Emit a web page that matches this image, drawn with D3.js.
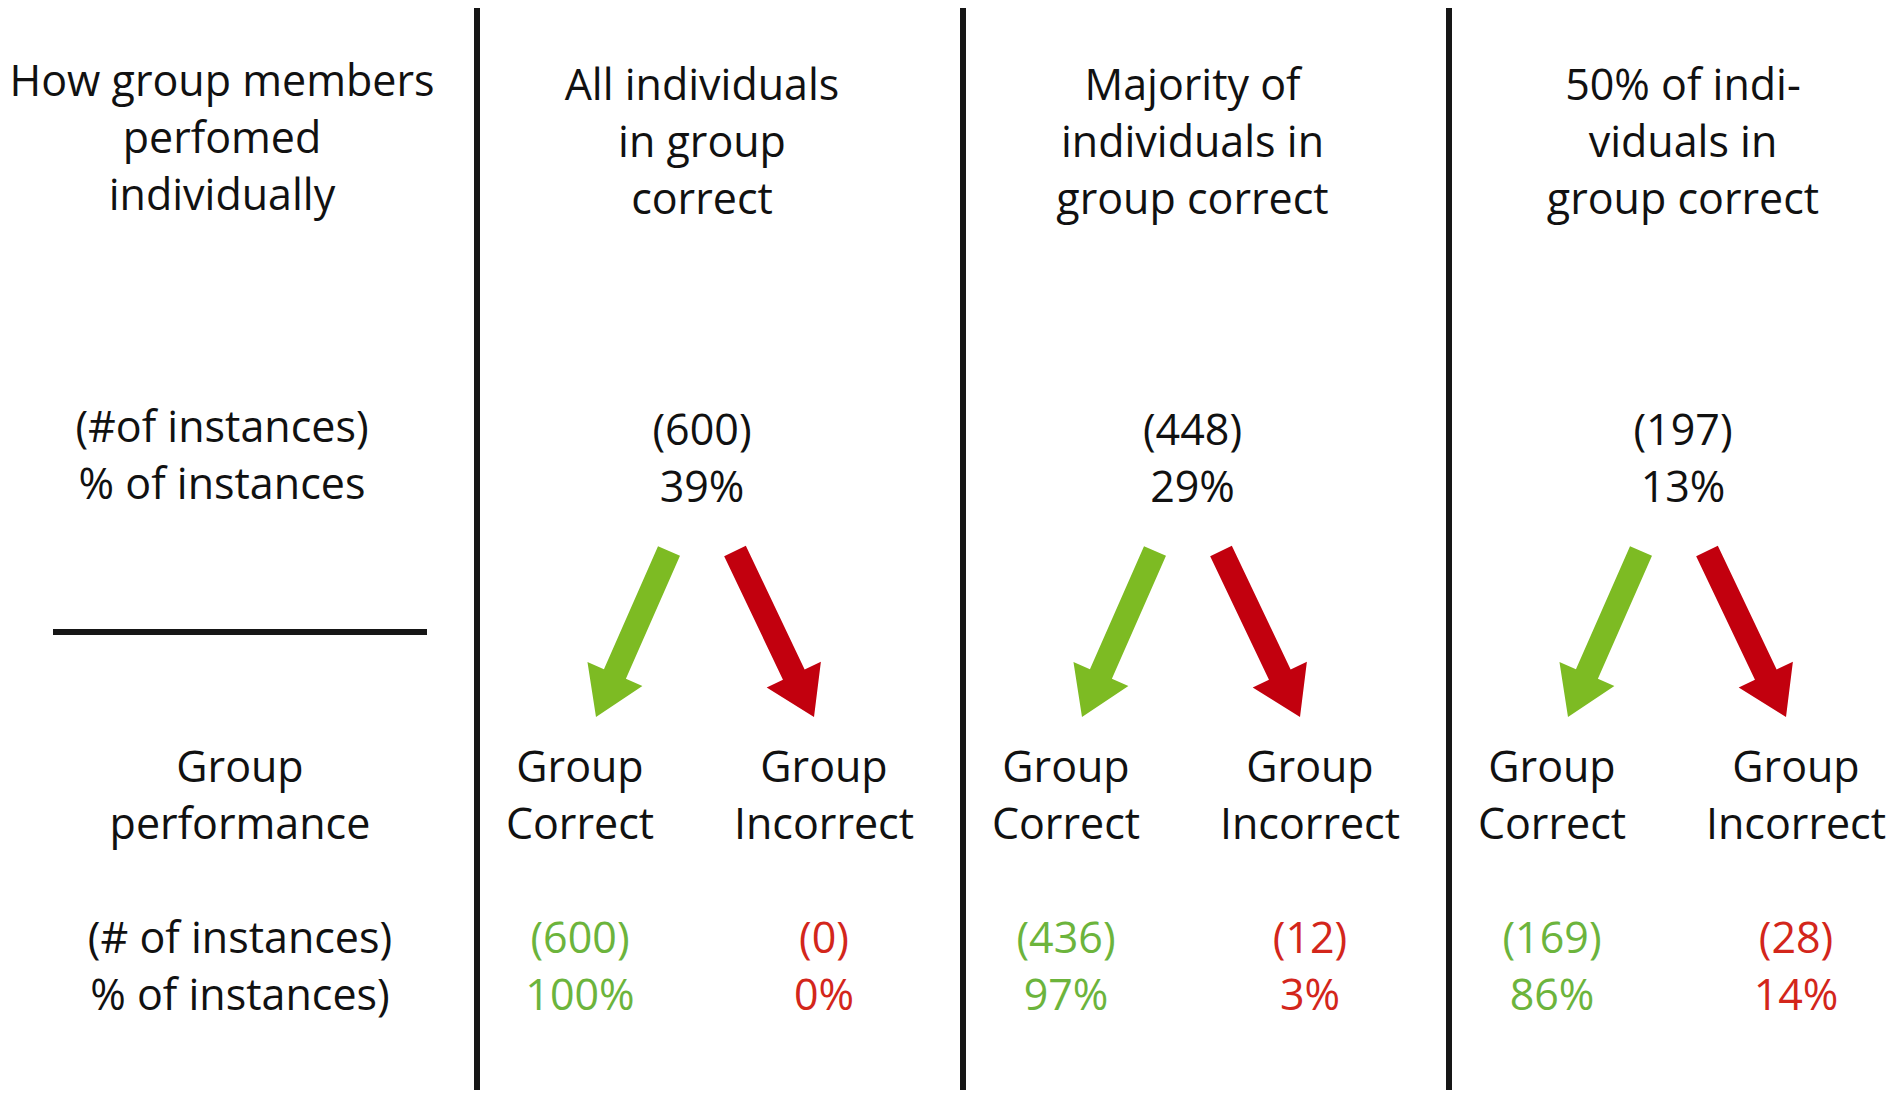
<!DOCTYPE html>
<html>
<head>
<meta charset="utf-8">
<script src="https://cdn.jsdelivr.net/npm/d3@7"></script>
<style>
  html, body { margin: 0; padding: 0; background: #ffffff; }
  svg { display: block; }
  text { font-family: "Open Sans", "Noto Sans", sans-serif; font-size: 43px; }
</style>
</head>
<body>
<svg width="1902" height="1094"></svg>
<script>
  // categories (column headers, one array of lines each)
  var columns = ["all", "majority", "half"];
  var headerLines = [
    ["All individuals", "in group", "correct"],
    ["Majority of", "individuals in", "group correct"],
    ["50% of indi-", "viduals in", "group correct"]
  ];
  var rowLabelTop = ["How group members", "perfomed", "individually"];
  var rowLabelCount = ["(#of instances)", "% of instances"];
  var rowLabelGroup = ["Group", "performance"];
  var rowLabelGroupCount = ["(# of instances)", "% of instances)"];

  // series values
  var instances = [600, 448, 197];
  var instancePct = [39, 29, 13];
  var outcomes = ["Correct", "Incorrect"];
  var outcomeCount = { Correct: [600, 436, 169], Incorrect: [0, 12, 28] };
  var outcomePct = { Correct: [100, 97, 86], Incorrect: [0, 3, 14] };

  var svg = d3.select("svg");

  // column mids (outcome pairs) and header centres
  var x = d3.scalePoint().domain(columns).range([702, 1674]);
  var xh = d3.scalePoint().domain(columns).range([702, 1683]);
  var sub = d3.scalePoint().domain(outcomes).range([-122, 122]);
  var arrowStart = d3.scalePoint().domain(outcomes).range([-33, 33]);
  var arrowTip = d3.scalePoint().domain(outcomes).range([-106, 112]);

  var arrowColor = { Correct: "#7dbb23", Incorrect: "#c2000e" };
  var textColor = { Correct: "#6cb43c", Incorrect: "#d3261b" };
  var lineH = 57;
  var leftX = 222, leftX2 = 240;

  function multiline(sel, lines, cx, y0, fill) {
    var t = sel.append("text")
        .attr("text-anchor", "middle")
        .attr("fill", fill || "#111");
    t.selectAll("tspan").data(lines).enter()
        .append("tspan")
        .attr("x", cx)
        .attr("y", function (d, i) { return y0 + i * lineH; })
        .text(function (d) { return d; });
    return t;
  }

  // separators
  svg.selectAll("line.sep").data(columns).enter()
      .append("line")
      .attr("class", "sep")
      .attr("x1", function (d) { return x(d) - 225; })
      .attr("x2", function (d) { return x(d) - 225; })
      .attr("y1", 8)
      .attr("y2", 1090)
      .attr("stroke", "#161616")
      .attr("stroke-width", 6);

  svg.append("line")
      .attr("x1", 53).attr("x2", 427)
      .attr("y1", 632).attr("y2", 632)
      .attr("stroke", "#161616")
      .attr("stroke-width", 6);

  // left labels
  multiline(svg, rowLabelTop, leftX, 96);
  multiline(svg, rowLabelCount, leftX, 442);
  multiline(svg, rowLabelGroup, leftX2, 782);
  multiline(svg, rowLabelGroupCount, leftX2, 953);

  // column blocks
  columns.forEach(function (c, i) {
    var cx = x(c);
    multiline(svg, headerLines[i], xh(c), 100);
    multiline(svg, ["(" + instances[i] + ")", instancePct[i] + "%"], xh(c), 445);

    outcomes.forEach(function (o) {
      var sx = cx + arrowStart(o), sy = 551;
      var tx = cx + arrowTip(o), ty = 717;
      var dx = tx - sx, dy = ty - sy, len = Math.sqrt(dx * dx + dy * dy);
      var ux = dx / len, uy = dy / len, px = -uy, py = ux;
      var shaft = 12, head = 30, headLen = 47;
      var bx = tx - ux * headLen, by = ty - uy * headLen;
      var pts = [
        [sx + px * shaft, sy + py * shaft],
        [bx + px * shaft, by + py * shaft],
        [bx + px * head, by + py * head],
        [tx, ty],
        [bx - px * head, by - py * head],
        [bx - px * shaft, by - py * shaft],
        [sx - px * shaft, sy - py * shaft]
      ];
      svg.append("path")
          .attr("class", "arrow")
          .attr("d", "M" + pts.map(function (p) { return p.join(","); }).join("L") + "Z")
          .attr("fill", arrowColor[o]);

      multiline(svg, ["Group", o], cx + sub(o), 782);
      multiline(svg, ["(" + outcomeCount[o][i] + ")", outcomePct[o][i] + "%"],
          cx + sub(o), 953, textColor[o]);
    });
  });
</script>
</body>
</html>
